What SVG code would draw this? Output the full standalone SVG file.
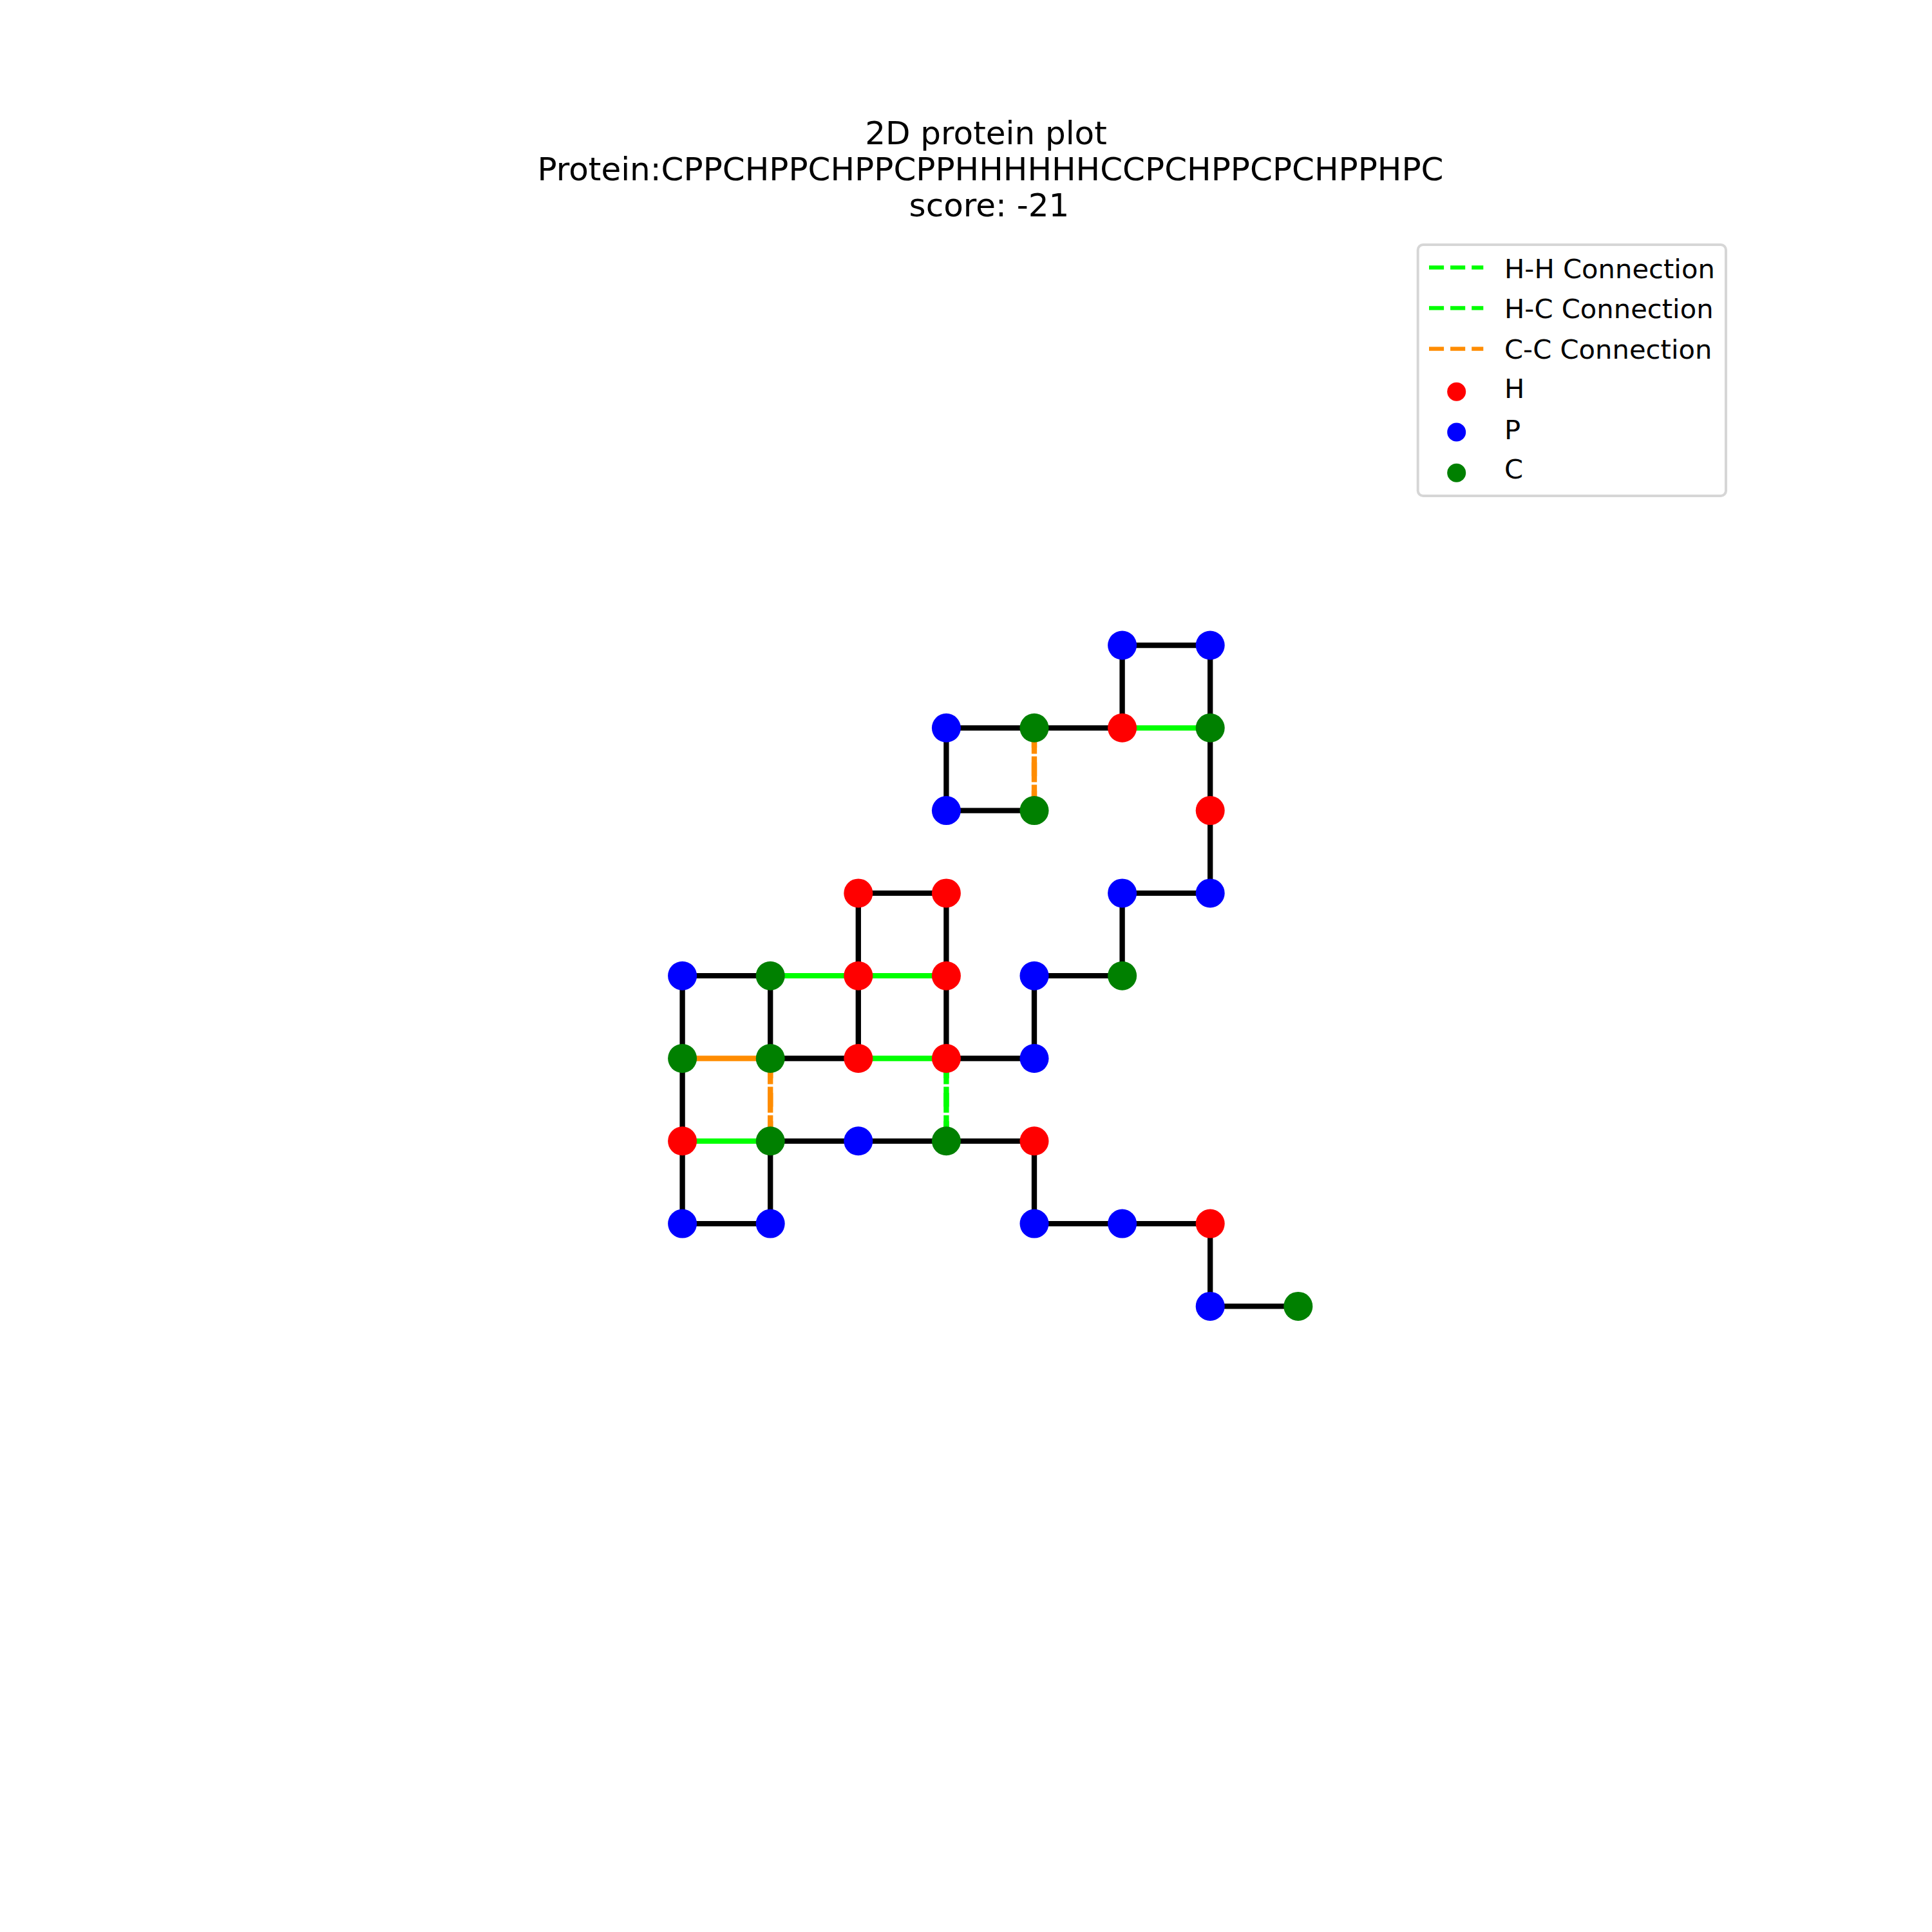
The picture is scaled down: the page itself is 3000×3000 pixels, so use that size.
<svg xmlns="http://www.w3.org/2000/svg" width="3000" height="3000" viewBox="0 0 3000 3000">
<style>
  .title { font-family: "DejaVu Sans", sans-serif; font-size: 50px; fill: #000; text-anchor: middle; }
  .leg { font-family: "DejaVu Sans", sans-serif; font-size: 41.7px; fill: #000; }
  .chain { fill: none; stroke: #000; stroke-width: 8.33; stroke-linejoin: miter; }
  .hh { stroke: #00ff00; stroke-width: 8.33; }
  .cc { stroke: #ff8c00; stroke-width: 8.33; }
  .dash { stroke-dasharray: 30.8 13.3; }
  .H { fill: #ff0000; }
  .P { fill: #0000ff; }
  .C { fill: #008000; }
</style>
<rect width="3000" height="3000" fill="#ffffff"/>
<g id="title">
  <text class="title" x="1531" y="224">2D protein plot</text>
  <text class="title" x="1538" y="280">Protein:CPPCHPPCHPPCPPHHHHHHCCPCHPPCPCHPPHPC</text>
  <text class="title" x="1536" y="336">score: -21</text>
</g>
<g id="connectors">
  <polyline class="chain" points="1606,1258.6 1469.4,1258.6 1469.4,1130.3 1606,1130.3 1742.6,1130.3 1742.6,1002 1879.2,1002 1879.2,1130.3 1879.2,1258.6 1879.2,1386.9 1742.6,1386.9 1742.6,1515.2 1606,1515.2 1606,1643.5 1469.4,1643.5 1469.4,1515.2 1469.4,1386.9 1332.8,1386.9 1332.8,1515.2 1332.8,1643.5 1196.2,1643.5 1196.2,1515.2 1059.6,1515.2 1059.6,1643.5 1059.6,1771.8 1059.6,1900.1 1196.2,1900.1 1196.2,1771.8 1332.8,1771.8 1469.4,1771.8 1606,1771.8 1606,1900.1 1742.6,1900.1 1879.2,1900.1 1879.2,2028.4 2015.8,2028.4"/>
  <line class="hh" x1="1742.6" y1="1130.3" x2="1879.2" y2="1130.3"/>
  <line class="cc dash" x1="1606" y1="1130.3" x2="1606" y2="1258.6"/>
  <line class="cc dash" x1="1606" y1="1258.6" x2="1606" y2="1130.3"/>
  <line class="hh" x1="1196.2" y1="1515.2" x2="1332.8" y2="1515.2"/>
  <line class="hh" x1="1332.8" y1="1515.2" x2="1469.4" y2="1515.2"/>
  <line class="cc" x1="1059.6" y1="1643.5" x2="1196.2" y2="1643.5"/>
  <line class="hh" x1="1332.8" y1="1643.5" x2="1469.4" y2="1643.5"/>
  <line class="cc dash" x1="1196.2" y1="1643.5" x2="1196.2" y2="1771.8"/>
  <line class="cc dash" x1="1196.2" y1="1771.8" x2="1196.2" y2="1643.5"/>
  <line class="hh dash" x1="1469.4" y1="1643.5" x2="1469.4" y2="1771.8"/>
  <line class="hh dash" x1="1469.4" y1="1771.8" x2="1469.4" y2="1643.5"/>
  <line class="hh" x1="1059.6" y1="1771.8" x2="1196.2" y2="1771.8"/>
</g>
<g id="nodes">
  <circle id="n1" class="C" cx="1606" cy="1258.6" r="22.5"/>
  <circle id="n2" class="P" cx="1469.4" cy="1258.6" r="22.5"/>
  <circle id="n3" class="P" cx="1469.4" cy="1130.3" r="22.5"/>
  <circle id="n4" class="C" cx="1606" cy="1130.3" r="22.5"/>
  <circle id="n5" class="H" cx="1742.6" cy="1130.3" r="22.5"/>
  <circle id="n6" class="P" cx="1742.6" cy="1002" r="22.5"/>
  <circle id="n7" class="P" cx="1879.2" cy="1002" r="22.5"/>
  <circle id="n8" class="C" cx="1879.2" cy="1130.3" r="22.5"/>
  <circle id="n9" class="H" cx="1879.2" cy="1258.6" r="22.5"/>
  <circle id="n10" class="P" cx="1879.2" cy="1386.9" r="22.5"/>
  <circle id="n11" class="P" cx="1742.6" cy="1386.9" r="22.5"/>
  <circle id="n12" class="C" cx="1742.6" cy="1515.2" r="22.5"/>
  <circle id="n13" class="P" cx="1606" cy="1515.2" r="22.5"/>
  <circle id="n14" class="P" cx="1606" cy="1643.5" r="22.5"/>
  <circle id="n15" class="H" cx="1469.4" cy="1643.5" r="22.5"/>
  <circle id="n16" class="H" cx="1469.4" cy="1515.2" r="22.5"/>
  <circle id="n17" class="H" cx="1469.4" cy="1386.9" r="22.5"/>
  <circle id="n18" class="H" cx="1332.8" cy="1386.9" r="22.5"/>
  <circle id="n19" class="H" cx="1332.8" cy="1515.2" r="22.5"/>
  <circle id="n20" class="H" cx="1332.8" cy="1643.5" r="22.5"/>
  <circle id="n21" class="C" cx="1196.2" cy="1643.5" r="22.5"/>
  <circle id="n22" class="C" cx="1196.2" cy="1515.2" r="22.5"/>
  <circle id="n23" class="P" cx="1059.6" cy="1515.2" r="22.5"/>
  <circle id="n24" class="C" cx="1059.6" cy="1643.5" r="22.5"/>
  <circle id="n25" class="H" cx="1059.6" cy="1771.8" r="22.5"/>
  <circle id="n26" class="P" cx="1059.6" cy="1900.1" r="22.5"/>
  <circle id="n27" class="P" cx="1196.2" cy="1900.1" r="22.5"/>
  <circle id="n28" class="C" cx="1196.2" cy="1771.8" r="22.5"/>
  <circle id="n29" class="P" cx="1332.8" cy="1771.8" r="22.5"/>
  <circle id="n30" class="C" cx="1469.4" cy="1771.8" r="22.5"/>
  <circle id="n31" class="H" cx="1606" cy="1771.8" r="22.5"/>
  <circle id="n32" class="P" cx="1606" cy="1900.1" r="22.5"/>
  <circle id="n33" class="P" cx="1742.6" cy="1900.1" r="22.5"/>
  <circle id="n34" class="H" cx="1879.2" cy="1900.1" r="22.5"/>
  <circle id="n35" class="P" cx="1879.2" cy="2028.4" r="22.5"/>
  <circle id="n36" class="C" cx="2015.8" cy="2028.4" r="22.5"/>
</g>
<g id="legend">
  <rect x="2201.7" y="380" width="478.3" height="390" rx="8" ry="8" fill="#ffffff" stroke="#d6d6d6" stroke-width="4"/>
  <line x1="2219" y1="415.3" x2="2303.3" y2="415.3" stroke="#00ff00" stroke-width="6.25" stroke-dasharray="23.1 10"/>
  <line x1="2219" y1="478.3" x2="2303.3" y2="478.3" stroke="#00ff00" stroke-width="6.25" stroke-dasharray="23.1 10"/>
  <line x1="2219" y1="541.7" x2="2303.3" y2="541.7" stroke="#ff8c00" stroke-width="6.25" stroke-dasharray="23.1 10"/>
  <circle class="H" cx="2261.7" cy="608.3" r="14.5"/>
  <circle class="P" cx="2261.7" cy="671" r="14.5"/>
  <circle class="C" cx="2261.7" cy="734.3" r="14.5"/>
  <text class="leg" x="2336" y="431.7">H-H Connection</text>
  <text class="leg" x="2336" y="494.3">H-C Connection</text>
  <text class="leg" x="2336" y="556.7">C-C Connection</text>
  <text class="leg" x="2336" y="618.3">H</text>
  <text class="leg" x="2336" y="681.7">P</text>
  <text class="leg" x="2336" y="743.3">C</text>
</g>
</svg>
